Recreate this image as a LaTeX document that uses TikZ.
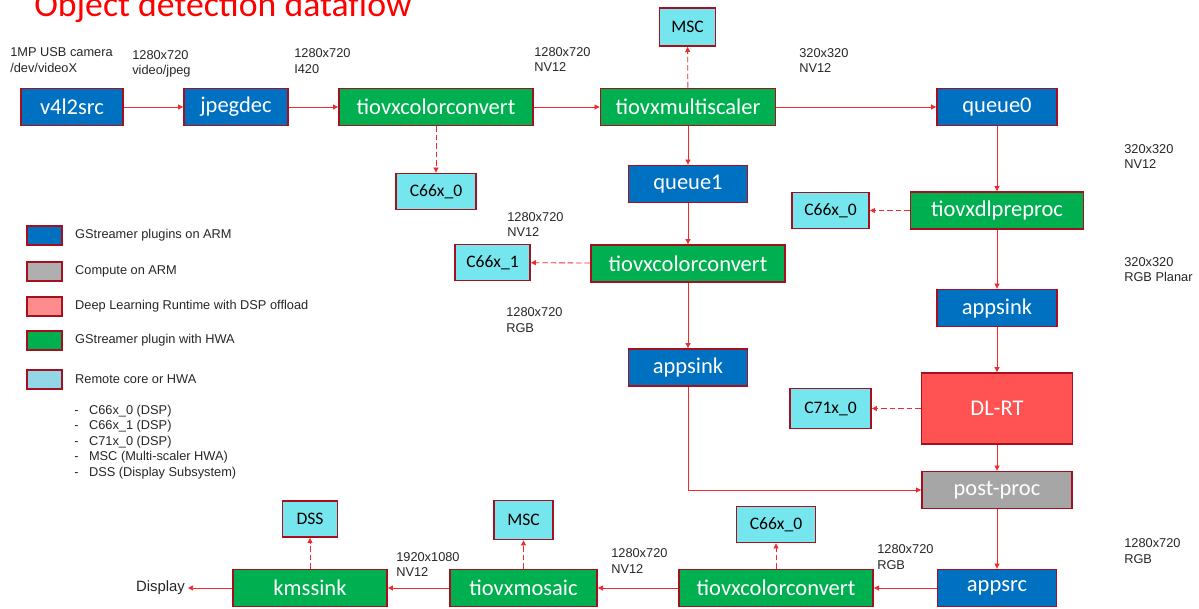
\documentclass[tikz,border=0pt]{standalone}
\usepackage{fontspec}
\setmainfont{Liberation Sans}
\newfontfamily\boxfont{Carlito}
\usetikzlibrary{arrows.meta,positioning}
\definecolor{armblue}{HTML}{0070C0}
\definecolor{hwagreen}{HTML}{00B050}
\definecolor{cpugray}{HTML}{A6A6A6}
\definecolor{dlred}{HTML}{FF5252}
\definecolor{dlpink}{HTML}{FF8C8C}
\definecolor{corecyan}{HTML}{76E6EE}
\definecolor{keycyan}{HTML}{92D7E7}
\definecolor{edgered}{HTML}{A50F1E}
\definecolor{flowred}{HTML}{EE2A2A}
\definecolor{titlered}{HTML}{FF0000}
\tikzset{
  armbox/.style={
    draw=edgered,
    fill=armblue,
    line width=1.3pt,
    text=white,
    inner sep=0pt,
    minimum height=0.925cm,
    font=\boxfont\fontsize{16}{18}\selectfont
  },
  hwabox/.style={armbox, fill=hwagreen},
  cpubox/.style={armbox, fill=cpugray},
  dlbox/.style={armbox, fill=dlred},
  corebox/.style={
    draw=edgered,
    fill=corecyan,
    line width=1.3pt,
    inner sep=0pt,
    minimum height=0.9cm,
    font=\boxfont\fontsize{12.5}{14}\selectfont
  },
  fmtlabel/.style={
    anchor=west,
    align=left,
    inner sep=0pt,
    text=black!85,
    font=\fontsize{9.1}{11}\selectfont
  },
  keybox/.style={
    draw=edgered,
    line width=1.3pt,
    minimum width=0.875cm,
    minimum height=0.475cm,
    inner sep=0pt
  },
  keylabel/.style={
    anchor=west,
    inner sep=0pt,
    text=black!85,
    font=\fontsize{9.1}{11}\selectfont
  },
  dataflow/.style={
    draw=flowred,
    -{Triangle[length=3.6pt,width=3.6pt]},
    line width=0.6pt
  },
  offload/.style={
    dataflow,
    dash pattern=on 4pt off 2pt
  }
}

\begin{document}
\begin{tikzpicture}[x=0.025cm, y=-0.025cm]
  \useasboundingbox (0,0) rectangle (1199,608);
  \node[anchor=base west, inner sep=0pt, text=titlered,
    font=\boxfont\fontsize{25.4}{30}\selectfont] (title) at (34,16) {Object detection dataflow};

  % capture and first conversion
  \node[armbox, minimum width=2.55cm] (v4l2src) at (72,107) {v4l2src};
  \node[armbox, minimum width=2.6cm] (jpegdec) at (236,107) {jpegdec};
  \node[hwabox, minimum width=4.85cm] (ccA) at (436,107) {tiovxcolorconvert};
  \node[hwabox, minimum width=4.375cm] (mscaler) at (688,107) {tiovxmultiscaler};
  \node[armbox, minimum width=3.0cm] (queue0) at (997,107) {queue0};
  \node[corebox, minimum width=1.4cm, minimum height=0.95cm] (mscA) at (687.5,27) {MSC};
  \node[corebox, minimum width=2.0cm] (c66A) at (436,191.5) {C66x\_0};

  % display branch
  \node[armbox, minimum width=2.975cm] (queue1) at (688,184) {queue1};
  \node[hwabox, minimum width=4.85cm] (ccB) at (688,263.5) {tiovxcolorconvert};
  \node[corebox, minimum width=1.875cm] (c66x1) at (492.5,262.5) {C66x\_1};
  \node[armbox, minimum width=2.975cm] (appsinkM) at (688,367.5) {appsink};

  % inference branch
  \node[hwabox, minimum width=4.325cm] (dlpre) at (997,210.5) {tiovxdlpreproc};
  \node[corebox, minimum width=1.925cm] (c66B) at (830.5,210.5) {C66x\_0};
  \node[armbox, minimum width=3.0cm] (appsinkR) at (997,308) {appsink};
  \node[dlbox, minimum width=3.775cm, minimum height=1.775cm] (dlrt) at (997,408.5) {DL-RT};
  \node[corebox, minimum width=2.025cm, minimum height=1.0cm] (c71) at (830.5,408.5) {C71x\_0};
  \node[cpubox, minimum width=3.75cm] (postproc) at (997,490) {post-proc};

  % output
  \node[armbox, minimum width=2.975cm] (appsrc) at (997,588) {appsrc};
  \node[hwabox, minimum width=4.85cm] (ccC) at (776,588) {tiovxcolorconvert};
  \node[corebox, minimum width=1.975cm] (c66C) at (776,524.5) {C66x\_0};
  \node[hwabox, minimum width=3.675cm] (mosaic) at (523.5,588) {tiovxmosaic};
  \node[corebox, minimum width=1.475cm, minimum height=0.975cm] (msc2) at (523.5,520) {MSC};
  \node[hwabox, minimum width=3.85cm] (kmssink) at (310,588) {kmssink};
  \node[corebox, minimum width=1.375cm] (dss) at (310,519) {DSS};
  \node[inner sep=2pt, text=black!85, font=\fontsize{10.6}{12}\selectfont,
    left=1.1cm of kmssink] (display) {Display};

  % formats
  \node[fmtlabel] (fmtcam) at (10,60) {1MP USB camera\\/dev/videoX};
  \node[fmtlabel] (fmtjpeg) at (132,64) {1280x720\\video/jpeg};
  \node[fmtlabel] (fmti420) at (294,61) {1280x720\\I420};
  \node[fmtlabel] (fmtnv12a) at (534,59.5) {1280x720\\NV12};
  \node[fmtlabel] (fmtnv12b) at (799,60.5) {320x320\\NV12};
  \node[fmtlabel] (fmtnv12c) at (1124,156.5) {320x320\\NV12};
  \node[fmtlabel] (fmtnv12d) at (507,224.5) {1280x720\\NV12};
  \node[fmtlabel] (fmtrgba) at (506,320) {1280x720\\RGB};
  \node[fmtlabel] (fmtplanar) at (1124,269.5) {320x320\\RGB Planar};
  \node[fmtlabel] (fmtrgbb) at (1124,551) {1280x720\\RGB};
  \node[fmtlabel] (fmtrgbc) at (877,557) {1280x720\\RGB};
  \node[fmtlabel] (fmtnv12e) at (611,561) {1280x720\\NV12};
  \node[fmtlabel] (fmtnv12f) at (396,564.5) {1920x1080\\NV12};

  % legend
  \node[keybox, fill=armblue] (keyarm) at (44.5,235.5) {};
  \node[keybox, fill=cpugray!90] (keycpu) at (44.5,271.5) {};
  \node[keybox, fill=dlpink] (keydl) at (44.5,306.5) {};
  \node[keybox, fill=hwagreen] (keyhwa) at (44.5,340.5) {};
  \node[keybox, fill=keycyan] (keycore) at (44.5,379.5) {};
  \node[keylabel, right=0.3cm of keyarm] (keyarmtxt) {GStreamer plugins on ARM};
  \node[keylabel, right=0.3cm of keycpu] (keycputxt) {Compute on ARM};
  \node[keylabel, right=0.3cm of keydl] (keydltxt) {Deep Learning Runtime with DSP offload};
  \node[keylabel, right=0.3cm of keyhwa] (keyhwatxt) {GStreamer plugin with HWA};
  \node[keylabel, right=0.3cm of keycore] (keycoretxt) {Remote core or HWA};
  \node[fmtlabel] (corelist) at (74,442) {%
    \makebox[10.5pt][l]{-}C66x\_0 (DSP)\\
    \makebox[10.5pt][l]{-}C66x\_1 (DSP)\\
    \makebox[10.5pt][l]{-}C71x\_0 (DSP)\\
    \makebox[10.5pt][l]{-}MSC (Multi-scaler HWA)\\
    \makebox[10.5pt][l]{-}DSS (Display Subsystem)};

  % data flow
  \draw[dataflow] (v4l2src) -- (jpegdec);
  \draw[dataflow] (jpegdec) -- (ccA);
  \draw[dataflow] (ccA) -- (mscaler);
  \draw[dataflow] (mscaler) -- (queue0);
  \draw[dataflow] (mscaler) -- (queue1);
  \draw[dataflow] (queue1) -- (ccB);
  \draw[dataflow] (ccB) -- (appsinkM);
  \draw[dataflow] (queue0) -- (dlpre);
  \draw[dataflow] (dlpre) -- (appsinkR);
  \draw[dataflow] (appsinkR) -- (dlrt);
  \draw[dataflow] (dlrt) -- (postproc);
  \draw[dataflow] (appsinkM) |- (postproc);
  \draw[dataflow] (postproc) -- (appsrc);
  \draw[dataflow] (appsrc) -- (ccC);
  \draw[dataflow] (ccC) -- (mosaic);
  \draw[dataflow] (mosaic) -- (kmssink);
  \draw[dataflow] (kmssink) -- (display);

  % offload to remote cores
  \draw[offload] (mscaler) -- (mscA);
  \draw[offload] (ccA) -- (c66A);
  \draw[offload] (ccB) -- (c66x1);
  \draw[offload] (dlpre) -- (c66B);
  \draw[offload] (dlrt) -- (c71);
  \draw[offload] (ccC) -- (c66C);
  \draw[offload] (mosaic) -- (msc2);
  \draw[offload] (kmssink) -- (dss);
\end{tikzpicture}
\end{document}
